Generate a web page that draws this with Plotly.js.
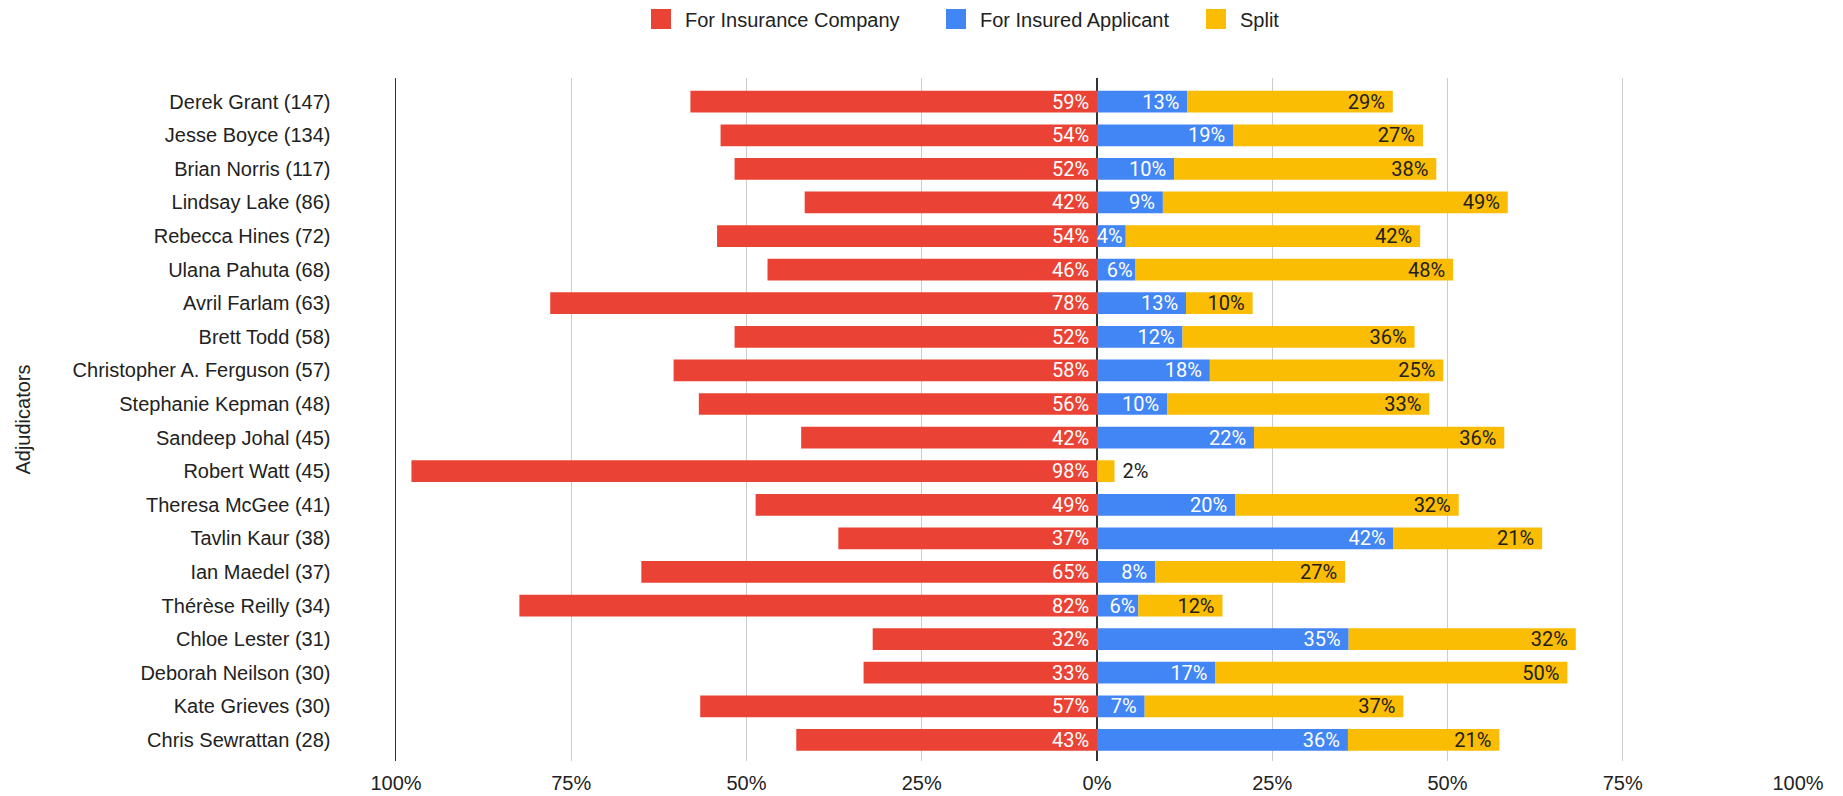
<!DOCTYPE html>
<html>
<head>
<meta charset="utf-8">
<script src="https://cdn.plot.ly/plotly-3.0.1.min.js"></script>
<style>
  html, body { margin: 0; padding: 0; background: #fff; }
  #chart { width: 1843px; height: 796px; }
</style>
</head>
<body>
<div id="chart"></div>
<script>
// Adjudicators (category labels, top to bottom)
const adjudicators = [
  'Derek Grant (147)', 'Jesse Boyce (134)', 'Brian Norris (117)', 'Lindsay Lake (86)',
  'Rebecca Hines (72)', 'Ulana Pahuta (68)', 'Avril Farlam (63)', 'Brett Todd (58)',
  'Christopher A. Ferguson (57)', 'Stephanie Kepman (48)', 'Sandeep Johal (45)', 'Robert Watt (45)',
  'Theresa McGee (41)', 'Tavlin Kaur (38)', 'Ian Maedel (37)', 'Thérèse Reilly (34)',
  'Chloe Lester (31)', 'Deborah Neilson (30)', 'Kate Grieves (30)', 'Chris Sewrattan (28)'
];

// Bar lengths (percent) as drawn
const forInsurer = [58.0, 53.7, 51.7, 41.7, 54.2, 47.0, 78.0, 51.7, 60.4, 56.8,
                    42.2, 97.8, 48.7, 36.9, 65.0, 82.4, 32.0, 33.3, 56.6, 42.9];
const forApplicant = [12.9, 19.4, 11.0, 9.4, 4.1, 5.5, 12.7, 12.2, 16.1, 10.0,
                      22.4, 0, 19.7, 42.3, 8.3, 5.9, 35.9, 16.9, 6.8, 35.8];
const split = [29.3, 27.1, 37.4, 49.2, 42.0, 45.3, 9.5, 33.1, 33.3, 37.4,
               35.7, 2.5, 31.9, 21.2, 27.1, 12.0, 32.4, 50.2, 36.9, 21.6];

// Data labels shown on the bars (percent)
const insurerLabels = [59, 54, 52, 42, 54, 46, 78, 52, 58, 56, 42, 98, 49, 37, 65, 82, 32, 33, 57, 43];
const applicantLabels = [13, 19, 10, 9, 4, 6, 13, 12, 18, 10, 22, null, 20, 42, 8, 6, 35, 17, 7, 36];
const splitLabels = [29, 27, 38, 49, 42, 48, 10, 36, 25, 33, 36, 2, 32, 21, 27, 12, 32, 50, 37, 21];

// Axis ticks
const tickValues = [-100, -75, -50, -25, 0, 25, 50, 75, 100];
const tickLabels = ['100%', '75%', '50%', '25%', '0%', '25%', '50%', '75%', '100%'];

const seriesNames = ['For Insurance Company', 'For Insured Applicant', 'Split'];
const colors = ['#ea4335', '#4285f4', '#fbbc04'];

const NB = '\u00a0';
// label text; a trailing no-break space gives Google-like end padding when the bar is wide enough
const fmt = (v, len) => (v === null ? '' : v + '%' + (len >= 6.5 ? NB : ''));

const barFont = { family: 'Roboto, "Liberation Sans", Arial, sans-serif', size: 20 };

const traces = [
  {
    type: 'bar', orientation: 'h', name: seriesNames[0], legend: 'legend',
    y: adjudicators, x: forInsurer.map(v => -v),
    marker: { color: colors[0] },
    text: insurerLabels.map((v, i) => fmt(v, forInsurer[i])),
    textposition: 'inside', insidetextanchor: 'start', constraintext: 'none',
    insidetextfont: Object.assign({ color: '#ffffff' }, barFont),
    hoverinfo: 'skip'
  },
  {
    type: 'bar', orientation: 'h', name: seriesNames[1], legend: 'legend2',
    y: adjudicators, x: forApplicant,
    marker: { color: colors[1] },
    text: applicantLabels.map((v, i) => fmt(v, forApplicant[i])),
    textposition: 'inside', insidetextanchor: 'end', constraintext: 'none',
    insidetextfont: Object.assign({ color: '#ffffff' }, barFont),
    hoverinfo: 'skip'
  },
  {
    type: 'bar', orientation: 'h', name: seriesNames[2], legend: 'legend3',
    y: adjudicators, x: split,
    marker: { color: colors[2] },
    text: splitLabels.map((v, i) => split[i] < 5 ? NB + v + '%' : fmt(v, split[i])),
    textposition: split.map(v => v < 5 ? 'outside' : 'inside'),
    insidetextanchor: 'end', constraintext: 'none', cliponaxis: false,
    insidetextfont: Object.assign({ color: '#212121' }, barFont),
    outsidetextfont: Object.assign({ color: '#212121' }, barFont),
    hoverinfo: 'skip'
  }
];

const axisFont = { family: '"Liberation Sans", Arial, sans-serif', size: 20, color: '#222222' };

function legendAt(px) {
  return {
    orientation: 'h', xref: 'container', yref: 'container',
    x: px / 1843, xanchor: 'left', y: 0.976, yanchor: 'middle',
    font: axisFont, bgcolor: 'rgba(0,0,0,0)'
  };
}

const layout = {
  width: 1843, height: 796,
  paper_bgcolor: '#ffffff', plot_bgcolor: '#ffffff',
  margin: { l: 395.5, r: 45, t: 78.3, b: 35.3, pad: 0 },
  barmode: 'relative',
  bargap: 0.353,
  showlegend: true,
  legend: legendAt(645),
  legend2: legendAt(940),
  legend3: legendAt(1200),
  xaxis: {
    range: [-100, 100],
    tickmode: 'array', tickvals: tickValues, ticktext: tickLabels,
    tickfont: axisFont,
    showgrid: true, gridcolor: '#cccccc', gridwidth: 1,
    zeroline: true, zerolinecolor: '#333333', zerolinewidth: 1.5,
    showline: false, ticks: '', ticklabelstandoff: 8,
    fixedrange: true
  },
  yaxis: {
    type: 'category',
    range: [19.629, -0.706],
    tickfont: axisFont,
    showgrid: false, zeroline: false,
    showline: true, linecolor: '#333333', linewidth: 1.5,
    ticks: '', ticklabelstandoff: 60,
    title: { text: 'Adjudicators', font: axisFont, standoff: 36 },
    fixedrange: true
  }
};

Plotly.newPlot('chart', traces, layout, { displayModeBar: false, staticPlot: true }).then(function (gd) {
  // enlarge the legend colour squares to match the reference (about 20px, text 14px to the right)
  gd.querySelectorAll('.legendpoints path').forEach(function (p) {
    p.setAttribute('d', 'M6,10H-14V-10H6Z');
  });
});
</script>
</body>
</html>
